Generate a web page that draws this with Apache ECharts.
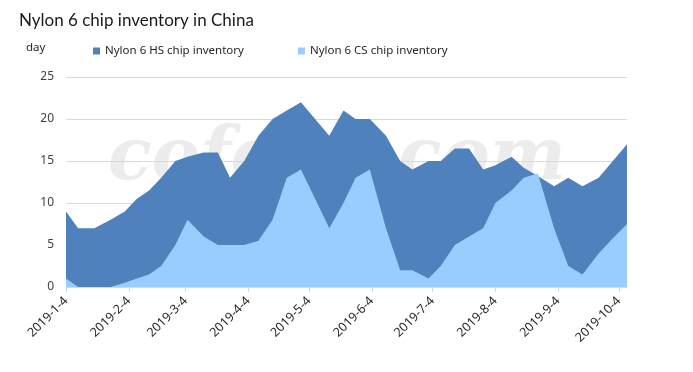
<!DOCTYPE html>
<html>
<head>
<meta charset="utf-8">
<script src="https://cdn.jsdelivr.net/npm/echarts@6/dist/echarts.min.js"></script>
<style>html,body{margin:0;padding:0;background:#fff;}#c{width:693px;height:372px;}</style>
</head>
<body>
<div id="c"></div>
<script>
const dates = [
  '2019-01-04','2019-01-10','2019-01-18','2019-01-26','2019-02-02','2019-02-08','2019-02-14','2019-02-20',
  '2019-02-27','2019-03-05','2019-03-13','2019-03-20','2019-03-26','2019-04-02','2019-04-09','2019-04-16',
  '2019-04-23','2019-04-30','2019-05-07','2019-05-14','2019-05-21','2019-05-27','2019-06-03','2019-06-11',
  '2019-06-18','2019-06-24','2019-07-02','2019-07-08','2019-07-15','2019-07-22','2019-07-29','2019-08-04',
  '2019-08-12','2019-08-18','2019-08-25','2019-09-02','2019-09-09','2019-09-16','2019-09-24','2019-10-01',
  '2019-10-08'
];
const hsInventory = [
  9, 7, 7, 8, 9, 10.5, 11.5, 13,
  15, 15.5, 16, 16, 13, 15, 18, 20,
  21, 22, 20, 18, 21, 20, 20, 18,
  15, 14, 15, 15, 16.5, 16.5, 14, 14.5,
  15.5, 14.2, 13.2, 12, 13, 12, 13, 15,
  17
];
const csInventory = [
  1, 0, 0, 0, 0.5, 1, 1.5, 2.5,
  5, 8, 6, 5, 5, 5, 5.5, 8,
  13, 14, 10.5, 7, 10, 13, 14, 7,
  2, 2, 1, 2.5, 5, 6, 7, 10,
  11.5, 13, 13.5, 7, 2.5, 1.5, 4, 5.8,
  7.5
];
const tickDates = ['2019-01-04','2019-02-04','2019-03-04','2019-04-04','2019-05-04','2019-06-04',
  '2019-07-04','2019-08-04','2019-09-04','2019-10-04'];
const seriesNames = ['Nylon 6 HS chip inventory', 'Nylon 6 CS chip inventory'];

const DAY = 86400000;
function utc(s){ const p = s.split('-').map(Number); return Date.UTC(p[0], p[1]-1, p[2]); }
const base = utc(dates[0]);
function dayNum(s){ return Math.round((utc(s) - base) / DAY); }
function dayLabel(n){ const d = new Date(base + n * DAY); return d.getUTCFullYear()+'-'+(d.getUTCMonth()+1)+'-'+d.getUTCDate(); }

const hsData = dates.map((d,i)=>[dayNum(d), hsInventory[i]]);
const csData = dates.map((d,i)=>[dayNum(d), csInventory[i]]);
const tickDays = tickDates.map(dayNum);

const chart = echarts.init(document.getElementById('c'), null, {renderer:'canvas'});
chart.setOption({
  animation: false,
  backgroundColor: '#fff',
  title: {
    text: 'Nylon 6 chip inventory in China',
    left: 14, top: 7,
    textStyle: {fontFamily: 'Lato', fontSize: 17, fontWeight: 'normal', color: '#1a1a1a'}
  },
  legend: {
    data: seriesNames,
    left: 88, top: 40,
    icon: 'rect', itemWidth: 7, itemHeight: 7, itemGap: 54,
    textStyle: {fontFamily: 'Noto Sans', fontSize: 11.5, color: '#262626'}
  },
  graphic: [
    {type:'text', left: 26, top: 42, z: 10, style:{text:'day', fontFamily:'Noto Sans', fontSize: 11.5, fill:'#262626'}},
    {type:'text', left: 108, top: 124, z: -10, zlevel: 0, silent:true,
     style:{text:'cofeed.com', fontFamily:'DejaVu Serif', fontStyle:'italic', fontWeight:'bold', fontSize: 72, fill:'#ececec'}}
  ],
  grid: {left: 66, right: 66, top: 77, bottom: 85, containLabel: false},
  xAxis: {
    type: 'value',
    min: 0, max: dayNum(dates[dates.length-1]),
    axisLine: {show: true, lineStyle: {color: '#d9d9d9'}},
    axisTick: {show: true, length: 5, lineStyle: {color: '#d9d9d9'}, customValues: tickDays},
    axisLabel: {
      customValues: tickDays,
      rotate: 45, fontFamily: 'Noto Sans', fontSize: 12.5, color: '#262626', margin: 12,
      formatter: function(v){ return dayLabel(v); }
    },
    splitLine: {show: false}
  },
  yAxis: {
    type: 'value', min: 0, max: 25, interval: 5,
    axisLine: {show: false}, axisTick: {show: false},
    axisLabel: {fontFamily: 'Noto Sans', fontSize: 12, color: '#404040', margin: 12},
    splitLine: {lineStyle: {color: '#d9d9d9'}}
  },
  series: [
    {name: seriesNames[0], type:'line', data: hsData, symbol:'none', zlevel: 1, z: 2,
     itemStyle:{color:'#4F81BD'}, lineStyle:{width:0}, areaStyle:{color:'#4F81BD', opacity:1}},
    {name: seriesNames[1], type:'line', data: csData, symbol:'none', zlevel: 1, z: 3,
     itemStyle:{color:'#99CCFF'}, lineStyle:{width:0}, areaStyle:{color:'#99CCFF', opacity:1}}
  ]
});
</script>
</body>
</html>
